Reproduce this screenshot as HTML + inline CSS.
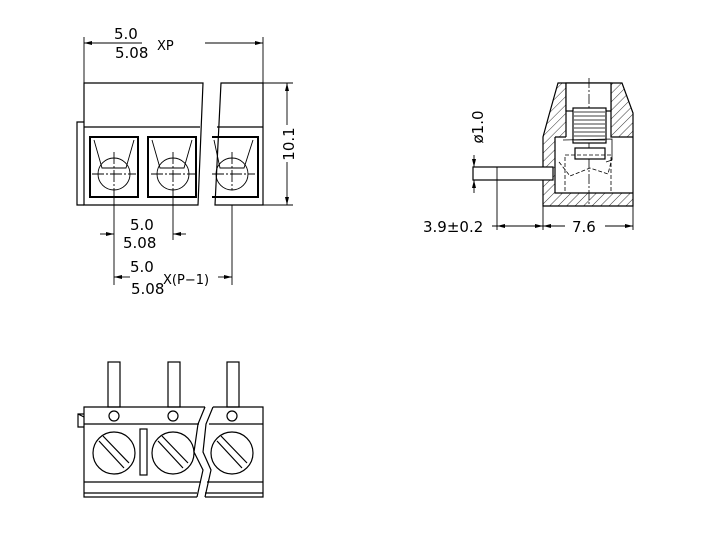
<!DOCTYPE html>
<html><head><meta charset="utf-8"><style>
html,body{margin:0;padding:0;background:#fff;width:726px;height:538px;overflow:hidden}
svg{display:block}
text{font-family:"DejaVu Sans","Liberation Sans",sans-serif;fill:#000}
</style></head><body>
<svg width="726" height="538" viewBox="0 0 726 538" xmlns="http://www.w3.org/2000/svg">
<defs>
<pattern id="h" width="6" height="6" patternUnits="userSpaceOnUse" patternTransform="rotate(45)">
<line x1="0" y1="0" x2="0" y2="6" stroke="#000" stroke-width="0.8"/></pattern>
</defs>
<g fill="none" stroke="#000" stroke-width="1.2">
<!-- TOP VIEW -->
<path d="M84 83 H203 L198 205 H84 Z"/>
<path d="M221 83 H263 V205 H215 Z"/>
<path d="M84 122 H77 V205 H84"/>
<line x1="84" y1="127" x2="200" y2="127"/>
<line x1="217" y1="127" x2="263" y2="127"/>
<rect x="90" y="137" width="48" height="60" stroke-width="2"/>
<rect x="148" y="137" width="48" height="60" stroke-width="2"/>
<path d="M212 137 H258 V197 H212" stroke-width="2"/>
<g stroke-width="0.9">
<path d="M94 140 L102 168 H126 L134 140"/>
<path d="M152 140 L160 168 H184 L192 140"/>
<path d="M214 140 L220 168 H244 L253 140"/>
<circle cx="114" cy="174" r="16"/><circle cx="173" cy="174" r="16"/><circle cx="232" cy="174" r="16"/>
<path d="M92 174 H136 M114 152 V190 M151 174 H195 M173 152 V190 M212 174 H255 M232 152 V190" stroke-dasharray="12 2 2 2"/>
</g>
<!-- top dims -->
<g stroke-width="0.9">
<line x1="84" y1="37" x2="84" y2="83"/><line x1="263" y1="37" x2="263" y2="83"/>
<line x1="84" y1="43" x2="142" y2="43"/><line x1="205" y1="43" x2="263" y2="43"/>
<line x1="263" y1="83" x2="293" y2="83"/><line x1="263" y1="205" x2="293" y2="205"/>
<line x1="287" y1="83" x2="287" y2="125"/><line x1="287" y1="162" x2="287" y2="205"/>
<line x1="114" y1="190" x2="114" y2="285"/><line x1="173" y1="190" x2="173" y2="240"/>
<line x1="232" y1="205" x2="232" y2="285"/>
<line x1="100" y1="234" x2="114" y2="234"/><line x1="173" y1="234" x2="186" y2="234"/>
<line x1="114" y1="277" x2="130" y2="277"/><line x1="218" y1="277" x2="232" y2="277"/>
</g>
<!-- SIDE VIEW -->
<path d="M558 83 H622 L633 113 V206 H543 V137 L549 115 Z" fill="url(#h)" stroke="none"/>
<path d="M566 83 H611 V137 H633 V193 H555 V137 H566 Z" fill="#fff" stroke="none"/>
<path d="M558 83 H622 L633 113 V206 H543 V137 L549 115 Z"/>
<path d="M566 83 V137 M611 83 V137 H633 M555 137 H566 M555 137 V193 H633"/>
<rect x="566" y="83" width="45" height="28" fill="#fff"/>
<line x1="589" y1="78" x2="589" y2="205" stroke-dasharray="10 2 2 2" stroke-width="0.8"/>
<rect x="573" y="108" width="33" height="35" fill="#fff"/>
<g stroke-width="0.8"><path d="M574 112 H605 M574 116 H605 M574 120 H605 M574 124 H605 M574 128 H605 M574 132 H605 M574 136 H605 M574 140 H605"/></g>
<rect x="575" y="148" width="30" height="11" fill="#fff"/>
<rect x="565" y="155" width="46" height="38" stroke-dasharray="4 2" stroke-width="0.8"/>
<path d="M559 162 L570 176 L590 168 L608 174 L612 158" stroke-dasharray="4 2" stroke-width="0.8"/>
<path d="M563 140 L612 139 V160 L606 162" stroke-width="0.8"/>
<rect x="473" y="167" width="80" height="13" fill="#fff"/>
<g stroke-width="0.9">
<line x1="497" y1="167" x2="497" y2="230"/><line x1="543" y1="206" x2="543" y2="230"/><line x1="633" y1="206" x2="633" y2="230"/>
<line x1="492" y1="226" x2="543" y2="226"/><line x1="543" y1="226" x2="565" y2="226"/><line x1="605" y1="226" x2="633" y2="226"/>
<line x1="474" y1="155" x2="474" y2="167"/><line x1="474" y1="180" x2="474" y2="193"/>
</g>
<!-- BOTTOM VIEW -->
<rect x="108" y="362" width="12" height="45"/><rect x="168" y="362" width="12" height="45"/><rect x="227" y="362" width="12" height="45"/>
<path d="M205 407 H84 V497 H197 M197 493 H84 M84 424 H199 M84 482 H201"/>
<path d="M213 407 H263 V497 H205 M205 493 H263 M263 424 H209 M263 482 H207"/>
<path d="M205 407 L198 424 L194 452 L203 470 L197 497"/>
<path d="M213 407 L206 424 L203 452 L211 470 L205 497"/>
<path d="M84 414 H78 V427 H84 M78 414 L84 417"/>
<circle cx="114" cy="416" r="5"/><circle cx="173" cy="416" r="5"/><circle cx="232" cy="416" r="5"/>
<circle cx="114" cy="453" r="21"/><circle cx="173" cy="453" r="21"/><circle cx="232" cy="453" r="21"/>
<path d="M99 441 L124 468 M103 436 L129 463 M158 441 L183 468 M162 436 L188 463 M217 441 L242 468 M221 436 L247 463"/>
<rect x="140" y="429" width="7" height="46"/>
</g>
<!-- arrows -->
<g fill="#000">
<path d="M84 43 l8 -2 v4z"/><path d="M263 43 l-8 -2 v4z"/>
<path d="M287 83 l-2 8 h4z"/><path d="M287 205 l-2 -8 h4z"/>
<path d="M114 234 l-8 -2 v4z"/><path d="M173 234 l8 -2 v4z"/>
<path d="M114 277 l8 -2 v4z"/><path d="M232 277 l-8 -2 v4z"/>
<path d="M497 226 l8 -2 v4z"/><path d="M543 226 l-8 -2 v4z"/><path d="M543 226 l8 -2 v4z"/><path d="M633 226 l-8 -2 v4z"/>
<path d="M474 167 l-2 -8 h4z"/><path d="M474 180 l-2 8 h4z"/>
</g>
<g font-size="15">
<text x="114" y="39">5.0</text><text x="115" y="58">5.08</text><text x="157" y="50" font-size="13">XP</text>
<text x="294" y="144" transform="rotate(-90 294 144)" text-anchor="middle">10.1</text>
<text x="130" y="230">5.0</text><text x="123" y="248">5.08</text>
<text x="130" y="272">5.0</text><text x="131" y="294">5.08</text><text x="163" y="284" font-size="13">X(P−1)</text>
<text x="483" y="127" transform="rotate(-90 483 127)" text-anchor="middle">ø1.0</text>
<text x="423" y="232">3.9±0.2</text><text x="572" y="232">7.6</text>
</g>
</svg>
</body></html>
